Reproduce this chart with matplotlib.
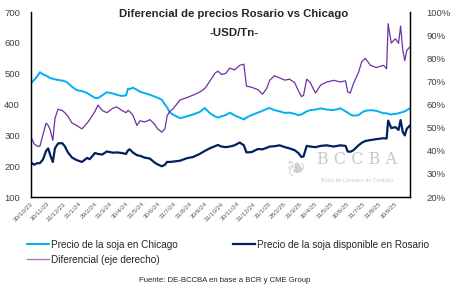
import matplotlib
matplotlib.use("Agg")
import matplotlib.pyplot as plt
import pandas as pd

# fechas de lectura (no equiespaciadas)
dates = ["2023-10-30", "2023-11-05", "2023-11-11", "2023-11-16", "2023-11-22", "2023-11-28",
         "2023-12-02", "2023-12-06", "2023-12-11", "2023-12-15", "2023-12-21", "2023-12-29",
         "2024-01-03", "2024-01-09", "2024-01-17", "2024-01-26", "2024-02-05", "2024-02-15",
         "2024-02-20", "2024-03-01", "2024-03-07", "2024-03-15", "2024-03-24", "2024-04-05",
         "2024-04-12", "2024-04-22", "2024-04-30", "2024-05-04", "2024-05-07", "2024-05-13",
         "2024-05-21", "2024-05-27", "2024-06-05", "2024-06-15", "2024-06-24", "2024-06-30",
         "2024-07-08", "2024-07-14", "2024-07-18", "2024-07-23", "2024-07-29", "2024-08-12",
         "2024-08-25", "2024-09-06", "2024-09-19", "2024-09-29", "2024-10-08", "2024-10-18",
         "2024-10-24", "2024-10-31", "2024-11-08", "2024-11-16", "2024-11-25", "2024-12-05",
         "2024-12-13", "2024-12-18", "2024-12-28", "2025-01-09", "2025-01-18", "2025-01-26",
         "2025-02-01", "2025-02-10", "2025-02-20", "2025-03-02", "2025-03-11", "2025-03-21",
         "2025-03-28", "2025-04-03", "2025-04-07", "2025-04-13", "2025-04-20", "2025-04-30",
         "2025-05-10", "2025-05-21", "2025-06-04", "2025-06-17", "2025-06-27", "2025-07-01",
         "2025-07-06", "2025-07-12", "2025-07-22", "2025-07-28", "2025-08-04", "2025-08-14",
         "2025-08-25", "2025-09-08", "2025-09-14", "2025-09-17", "2025-09-23", "2025-10-01",
         "2025-10-07", "2025-10-11", "2025-10-15", "2025-10-19", "2025-10-23", "2025-10-29"]

chicago = [470, 480, 492, 505, 498, 494, 490, 486, 484, 482, 480, 478,
           476, 470, 458, 447, 444, 438, 432, 422, 421, 430, 440, 436,
           432, 428, 430, 452, 450, 455, 448, 442, 437, 432, 426, 422,
           416, 400, 392, 375, 368, 356, 362, 368, 376, 389, 373, 362,
           358, 362, 366, 374, 365, 358, 352, 358, 366, 374, 380, 386,
           389, 382, 378, 373, 374, 370, 366, 368, 372, 378, 382, 384,
           388, 384, 382, 388, 378, 374, 368, 364, 366, 374, 380, 382,
           380, 372, 372, 370, 368, 370, 372, 374, 376, 378, 382, 388]

rosario = [212, 205, 210, 210, 222, 250, 258, 236, 214, 258, 274, 275,
           265, 245, 228, 220, 214, 227, 223, 243, 240, 238, 248, 244,
           245, 243, 240, 252, 255, 245, 236, 234, 228, 225, 212, 206,
           200, 205, 214, 214, 215, 218, 226, 230, 240, 250, 258, 265,
           269, 264, 262, 264, 268, 277, 268, 245, 246, 256, 255, 260,
           264, 265, 268, 262, 258, 252, 243, 230, 232, 266, 264, 262,
           266, 268, 264, 268, 266, 248, 247, 252, 268, 276, 282, 285,
           288, 291, 290, 348, 324, 327, 318, 350, 312, 300, 322, 332]

diferencial = [46, 43, 42, 42, 47, 52, 51, 49, 44.5, 54, 58, 57.5,
               56.5, 55, 52, 51, 49.5, 52, 53.5, 57, 59.8, 57.5, 56.5, 58.5,
               59, 57.5, 56.5, 57.5, 57, 55.5, 51, 53, 52.5, 53.5, 51.5, 49.5,
               48.1, 49.5, 55, 57, 58, 62, 63, 64.1, 65.4, 67, 70, 73.5,
               74.5, 73, 73.5, 75.8, 75, 77, 77.5, 68, 67.5, 66.5, 64.5, 67,
               70.6, 72.5, 71.5, 70.6, 71, 69.5, 66, 63.5, 64, 71, 69.5, 65,
               68.5, 69.7, 70.5, 69.8, 70.3, 65.5, 65, 69, 74, 78.5, 80, 77,
               76, 77, 75.5, 95, 86.6, 88.5, 86.5, 94, 84, 79, 83.5, 85]

tick_labels = ["30/10/23", "30/11/23", "31/12/23", "31/1/24", "29/2/24", "31/3/24",
               "30/4/24", "31/5/24", "30/6/24", "31/7/24", "31/8/24", "30/9/24",
               "31/10/24", "30/11/24", "31/12/24", "31/1/25", "28/2/25", "31/3/25",
               "30/4/25", "31/5/25", "30/6/25", "31/7/25", "31/8/25", "30/9/25"]

x = pd.to_datetime(dates)
ticks = pd.to_datetime(tick_labels, format="%d/%m/%y")

plt.rcParams["font.family"] = ["Liberation Sans", "DejaVu Sans"]

fig = plt.figure(figsize=(4.5, 2.89), dpi=100)
ax = fig.add_axes([0.069, 0.318, 0.842, 0.640])
ax2 = ax.twinx()

l1, = ax.plot(x, chicago, color="#00B0F0", lw=1.4, label="Precio de la soja en Chicago")
l2, = ax.plot(x, rosario, color="#002060", lw=1.6, label="Precio de la soja disponible en Rosario")
l3, = ax2.plot(x, diferencial, color="#7030A0", lw=0.9, label="Diferencial (eje derecho)")

ax.set_ylim(100, 700)
ax.set_yticks(range(100, 701, 100))
ax2.set_ylim(20, 100)
ax2.set_yticks(range(20, 101, 10))
ax2.set_yticklabels([f"{v}%" for v in range(20, 101, 10)])
ax.set_xlim(x[0], x[-1])

ax.set_xticks(ticks)
ax.set_xticklabels(tick_labels, rotation=45, ha="right", rotation_mode="anchor",
                   fontsize=4.6, color="#595959")
ax.tick_params(axis="x", length=0, pad=3)
ax.tick_params(axis="y", length=0, labelsize=6.8, colors="#404040", pad=8)
ax2.tick_params(axis="y", length=0, labelsize=6.8, colors="#404040", pad=12)

for a in (ax, ax2):
    a.spines["top"].set_visible(False)
    for s in ("left", "right", "bottom"):
        a.spines[s].set_color("black")
        a.spines[s].set_linewidth(0.9)

# titulo dentro del grafico
fig.text(0.52, 0.952, "Diferencial de precios Rosario vs Chicago", ha="center", va="center",
         fontsize=8.2, fontweight="bold", color="#262626")
fig.text(0.52, 0.885, "-USD/Tn-", ha="center", va="center",
         fontsize=8.2, fontweight="bold", color="#262626")

# marca de agua
ax.text(0.86, 0.205, "B C C B A", transform=ax.transAxes, ha="center", va="center",
        family="DejaVu Serif", fontsize=11.5, color="#c8c8c8", zorder=0)
ax.text(0.86, 0.09, "Bolsa de Cereales de Córdoba", transform=ax.transAxes, ha="center",
        va="center", family="DejaVu Serif", fontsize=3.4, color="#c8c8c8", zorder=0)
ax.text(0.705, 0.17, "\u2766", transform=ax.transAxes, ha="center", va="center",
        family="DejaVu Sans", fontsize=16, color="#d0d0d0", rotation=90, zorder=0)

leg = fig.legend(handles=[l1, l3, l2], loc="upper left", bbox_to_anchor=(0.05, 0.185),
                 ncol=2, frameon=False, fontsize=7.2, handlelength=2.2, handletextpad=0.25,
                 columnspacing=5.5, labelspacing=0.5, borderaxespad=0, labelcolor="#262626")
leg.legend_handles[1].set_color("#a070d0")

fig.text(0.5, 0.03, "Fuente: DE-BCCBA en base a BCR y CME Group", ha="center", va="center",
         fontsize=5.6, color="#262626")

fig.savefig("out.png", dpi=100)
